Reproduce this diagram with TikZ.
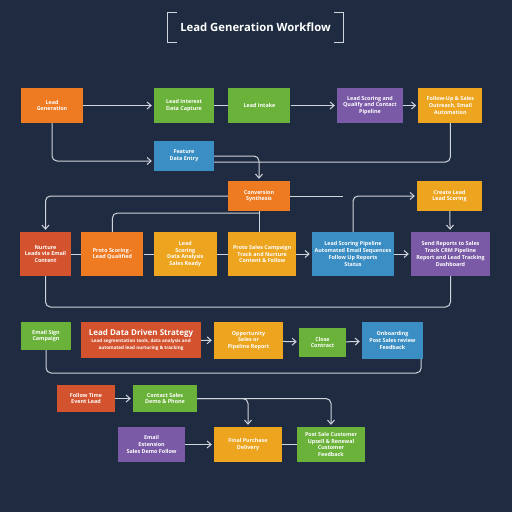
\documentclass[tikz,border=0pt]{standalone}
\usepackage{fontspec}
\setmainfont{Open Sans}
\usetikzlibrary{positioning, arrows.meta}
\definecolor{bgnavy}{HTML}{1F2B40}
\definecolor{cOrange}{HTML}{EE7A22}
\definecolor{cGreen}{HTML}{6BB23A}
\definecolor{cPurple}{HTML}{7A5AA6}
\definecolor{cAmber}{HTML}{EDA520}
\definecolor{cBlue}{HTML}{3B8EC3}
\definecolor{cRed}{HTML}{D4532F}
\definecolor{wire}{HTML}{D0D4DC}
\tikzset{
	box/.style={
		rectangle, draw=none, text=white, align=center,
		inner sep=1pt, font=\fontsize{5.4}{6.8}\selectfont\bfseries
	},
	orangebox/.style={box, fill=cOrange},
	greenbox/.style={box, fill=cGreen},
	purplebox/.style={box, fill=cPurple},
	amberbox/.style={box, fill=cAmber},
	bluebox/.style={box, fill=cBlue},
	redbox/.style={box, fill=cRed},
	link/.style={draw=wire, line width=1pt, rounded corners=5pt},
	flow/.style={link, -{Straight Barb[length=4pt, width=7pt]}, shorten >=2pt},
	heading/.style={font=\fontsize{11.3}{13}\selectfont\bfseries, text=white}
}

\begin{document}
\begin{tikzpicture}[x=1pt, y=-1pt]
	\fill[bgnavy] (0,0) rectangle (512,512);
	\useasboundingbox (0,0) rectangle (512,512);

	% title
	\node [heading, minimum width=175pt, minimum height=29pt] (title) at (255.5,27.5) {Lead Generation Workflow};
	\draw [wire, line width=1pt] ([xshift=9pt]title.north west) -- (title.north west) -- (title.south west) -- ++(9,0);
	\draw [wire, line width=1pt] ([xshift=-9pt]title.north east) -- (title.north east) -- (title.south east) -- ++(-9,0);

	% first row
	\node [orangebox, minimum width=62pt, minimum height=35pt] (gen) at (52,105.5) {Lead\\Generation};
	\node [greenbox, minimum width=60pt, minimum height=35pt] (capture) at (184,105.5) {Lead Interest\\Data Capture};
	\node [greenbox, minimum width=62pt, minimum height=35pt, right = 14pt of capture] (intake) {Lead Intake};
	\node [purplebox, minimum width=66pt, minimum height=35pt] (qualify) at (370,105.5) {Lead Scoring and\\Qualify and Contact\\Pipeline};
	\node [amberbox, minimum width=64pt, minimum height=35pt, right = 15pt of qualify] (outreach) {Follow-Up \& Sales\\Outreach, Email\\Automation};

	\node [bluebox, minimum width=60pt, minimum height=30pt] (entry) at (184,156) {Feature\\Data Entry};
	\node [orangebox, minimum width=62pt, minimum height=30pt] (synth) at (259,196) {Conversion\\Synthesis};
	\node [amberbox, minimum width=65pt, minimum height=30pt] (create) at (449.5,196) {Create Lead\\Lead Scoring};

	% second row
	\node [redbox, minimum width=51pt, minimum height=44pt] (nurture) at (45.5,254) {Nurture\\Leads via Email\\Content};
	\node [orangebox, minimum width=62pt, minimum height=44pt, right = 10pt of nurture] (proto) {Proto Scoring -\\Lead Qualified};
	\node [amberbox, minimum width=63pt, minimum height=44pt, right = 10pt of proto] (scoring) {Lead\\Scoring\\Data Analysis\\Sales Ready};
	\node [amberbox, minimum width=68pt, minimum height=44pt, right = 11pt of scoring] (campaign) {Proto Sales Campaign\\Track and Nurture\\Content \& Follow};
	\node [bluebox, minimum width=82pt, minimum height=44pt] (pipeline) at (353,254) {Lead Scoring Pipeline\\Automated Email Sequences\\Follow Up Reports\\Status};
	\node [purplebox, minimum width=79pt, minimum height=44pt] (reports) at (450.5,254) {Send Reports to Sales\\Track CRM Pipeline\\Report and Lead Tracking\\Dashboard};

	% third row
	\node [greenbox, minimum width=50pt, minimum height=28pt] (signup) at (46,336) {Email Sign\\Campaign};
	\node [redbox, minimum width=120pt, minimum height=36pt] (strategy) at (141,340) {{\fontsize{8}{10}\selectfont Lead Data Driven Strategy}\\[1pt]{\fontsize{4.6}{6}\selectfont Lead segmentation tools, data analysis and}\\{\fontsize{4.6}{6}\selectfont automated lead nurturing \& tracking}};
	\node [amberbox, minimum width=69pt, minimum height=37pt] (oppty) at (248.5,340.5) {Opportunity\\Sales or\\Pipeline Report};
	\node [greenbox, minimum width=47pt, minimum height=29pt] (close) at (322.5,342.5) {Close\\Contract};
	\node [bluebox, minimum width=61pt, minimum height=37pt] (onboard) at (392.5,340.5) {Onboarding\\Post Sales review\\Feedback};

	% last rows
	\node [redbox, minimum width=58pt, minimum height=27pt] (event) at (86,398.5) {Follow Time\\Event Lead};
	\node [greenbox, minimum width=64pt, minimum height=27pt] (demo) at (165,398.5) {Contact Sales\\Demo \& Phone};
	\node [purplebox, minimum width=67pt, minimum height=35pt] (ext) at (151.5,444.5) {Email\\Extension\\Sales Demo Follow};
	\node [amberbox, minimum width=68pt, minimum height=35pt] (purchase) at (248,444.5) {Final Purchase\\Delivery};
	\node [greenbox, minimum width=68pt, minimum height=35pt] (renew) at (331,444.5) {Post Sale Customer\\Upsell \& Renewal\\Customer\\Feedback};

	\coordinate (synthend) at (343,196);
	\coordinate (knee) at (259,213);

	% connectors, first block
	\draw [flow] (gen) -- (capture);
	\draw [link] (capture) -- (intake);
	\draw [flow] (intake) -- (qualify);
	\draw [flow] (qualify) -- (outreach);
	\draw [flow] (gen.south) |- ([yshift=-5pt]entry.west);
	\draw [flow] (entry.east) -| (synth.north);
	\draw [link] (outreach.south) |- ([yshift=-6pt]entry.east);
	\draw [flow] (synth.west) -| (nurture.north);
	\draw [link] (synth.east) -- (synthend);
	\draw [flow] (pipeline.north) |- (create.west);
	\draw [flow] (create) -- (reports);

	% connectors, second block
	\draw [link] (synth.south) -- (synth.south |- campaign.north);
	\draw [link] (proto.north) |- (knee);
	\draw [link] (nurture) -- (proto);
	\draw [link] (proto) -- (scoring);
	\draw [link] (scoring) -- (campaign);
	\draw [flow] (campaign) -- (pipeline);
	\draw [flow] (pipeline) -- (reports);
	\draw [link] (nurture.south) -- (nurture.south |- 0,307) -- (reports.south |- 0,307) -- (reports.south);

	% connectors, third block
	\draw [flow] (strategy) -- (oppty);
	\draw [flow] (oppty) -- (close);
	\draw [flow] (close) -- (onboard);
	\draw [link] (signup.south) -- (signup.south |- 0,373) -- ([xshift=-2pt]onboard.south east |- 0,373) -- ([xshift=-2pt]onboard.south east);

	% connectors, last block
	\draw [flow] (event) -- (demo);
	\draw [flow] (demo.east) -| (purchase.north);
	\draw [flow] (demo.east) -| (renew.north);
	\draw [flow] (ext) -- (purchase);
	\draw [link] (purchase) -- (renew);
\end{tikzpicture}
\end{document}
